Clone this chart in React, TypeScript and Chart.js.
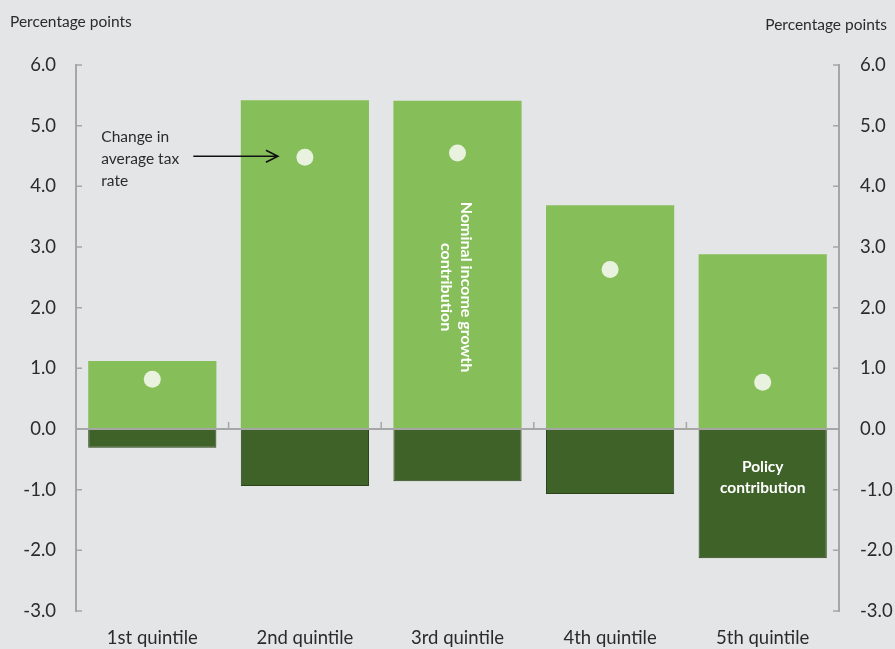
import React, { useEffect, useRef } from "react";
import { Chart, registerables } from "chart.js";

Chart.register(...registerables);

const categories = ["1st quintile", "2nd quintile", "3rd quintile", "4th quintile", "5th quintile"];
const nominalIncomeGrowth = [1.12, 5.42, 5.41, 3.69, 2.88];
const policyContribution = [-0.31, -0.94, -0.86, -1.07, -2.13];
const changeInAverageTaxRate = [0.82, 4.48, 4.55, 2.63, 0.77];
const yTicks = [-3, -2, -1, 0, 1, 2, 3, 4, 5, 6];
const axisTitle = "Percentage points";
const taxLabel = ["Change in", "average tax", "rate"];
const nominalLabel = ["Nominal income growth", "contribution"];
const policyLabel = ["Policy", "contribution"];

const FONT = "Lato, 'Open Sans', sans-serif";
const BG = "#e4e5e7";
const AXIS = "#a6a6a6";
const TEXT = "#2b2b2b";

const decorPlugin = {
  id: "decor",
  beforeDraw(chart: any) {
    const ctx = chart.ctx;
    ctx.save();
    ctx.fillStyle = BG;
    ctx.fillRect(0, 0, chart.width, chart.height);
    ctx.restore();
  },
  afterDatasetsDraw(chart: any) {
    const ctx = chart.ctx;
    const xs = chart.scales.x;
    const ys = chart.scales.y;
    const { left, right } = chart.chartArea;
    ctx.save();
    ctx.strokeStyle = AXIS;
    ctx.lineWidth = 2;
    const y0 = ys.getPixelForValue(0);
    ctx.beginPath();
    ctx.moveTo(left, y0);
    ctx.lineTo(right, y0);
    ctx.stroke();
    ctx.lineWidth = 1.5;
    for (let i = 0; i < categories.length - 1; i++) {
      const bx = (xs.getPixelForValue(i) + xs.getPixelForValue(i + 1)) / 2;
      ctx.beginPath();
      ctx.moveTo(bx, y0);
      ctx.lineTo(bx, y0 - 7);
      ctx.stroke();
    }
    for (const v of yTicks) {
      const py = ys.getPixelForValue(v);
      ctx.beginPath();
      ctx.moveTo(left, py);
      ctx.lineTo(left + 6, py);
      ctx.moveTo(right, py);
      ctx.lineTo(right - 6, py);
      ctx.stroke();
    }
    ctx.restore();
  },
  afterDraw(chart: any) {
    const ctx = chart.ctx;
    const xs = chart.scales.x;
    const ys = chart.scales.y;
    ctx.save();
    // axis titles
    ctx.fillStyle = TEXT;
    ctx.font = `15.5px ${FONT}`;
    ctx.textBaseline = "middle";
    ctx.textAlign = "left";
    ctx.fillText(axisTitle, 10, 22);
    ctx.textAlign = "right";
    ctx.fillText(axisTitle, 887, 25);

    // tax rate annotation
    const dotY = ys.getPixelForValue(changeInAverageTaxRate[1]);
    const tx = xs.getPixelForValue(0) - 51;
    ctx.textAlign = "left";
    ctx.font = `15.5px ${FONT}`;
    taxLabel.forEach((t, i) => ctx.fillText(t, tx, dotY - 20 + i * 22));
    const ax1 = xs.getPixelForValue(0) + 41;
    const ax2 = xs.getPixelForValue(1) - 27;
    const ay = dotY - 1;
    ctx.strokeStyle = "#111111";
    ctx.lineWidth = 1.6;
    ctx.beginPath();
    ctx.moveTo(ax1, ay);
    ctx.lineTo(ax2, ay);
    ctx.moveTo(ax2 - 12, ay - 6);
    ctx.lineTo(ax2, ay);
    ctx.lineTo(ax2 - 12, ay + 6);
    ctx.stroke();

    // rotated nominal label
    ctx.save();
    ctx.translate(xs.getPixelForValue(2), ys.getPixelForValue(2.34));
    ctx.rotate(Math.PI / 2);
    ctx.fillStyle = "#ffffff";
    ctx.font = `bold 16px ${FONT}`;
    ctx.textAlign = "center";
    ctx.fillText(nominalLabel[0], 0, -9);
    ctx.fillText(nominalLabel[1], 0, 11);
    ctx.restore();

    // policy label
    ctx.fillStyle = "#ffffff";
    ctx.font = `bold 15.5px ${FONT}`;
    ctx.textAlign = "center";
    const px = xs.getPixelForValue(4);
    const py = ys.getPixelForValue(-0.8);
    ctx.fillText(policyLabel[0], px, py - 10.5);
    ctx.fillText(policyLabel[1], px, py + 10.5);
    ctx.restore();
  },
};

export default function App() {
  const ref = useRef<HTMLCanvasElement | null>(null);
  useEffect(() => {
    document.body.style.margin = "0";
    document.body.style.background = BG;
    if (!ref.current) return;
    const yAxisCommon = {
      min: -3,
      max: 6,
      grid: { display: false, drawTicks: false },
      border: { display: true, color: AXIS, width: 2 },
      ticks: {
        stepSize: 1,
        color: TEXT,
        font: { size: 18.5, family: FONT },
        callback: (v: any) => Number(v).toFixed(1),
      },
    };
    const chart = new Chart(ref.current, {
      type: "bar",
      data: {
        labels: categories,
        datasets: [
          {
            type: "line",
            label: "Change in average tax rate",
            data: changeInAverageTaxRate,
            showLine: false,
            pointRadius: 8.5,
            pointBackgroundColor: "#e9f2df",
            pointBorderWidth: 0,
            stack: "tax",
            order: 0,
            yAxisID: "y",
          } as any,
          {
            type: "bar",
            label: "Nominal income growth contribution",
            data: nominalIncomeGrowth,
            backgroundColor: "#86bf5a",
            borderWidth: 0,
            stack: "q",
            order: 2,
            barPercentage: 0.84,
            categoryPercentage: 1,
            yAxisID: "y",
          },
          {
            type: "bar",
            label: "Policy contribution",
            data: policyContribution,
            backgroundColor: "#3f6229",
            borderColor: "#2a431b",
            borderWidth: 1,
            stack: "q",
            order: 2,
            barPercentage: 0.84,
            categoryPercentage: 1,
            yAxisID: "y",
          },
        ],
      },
      options: {
        animation: false,
        responsive: true,
        maintainAspectRatio: false,
        layout: { padding: { top: 65, left: 0, right: 0, bottom: 0 } },
        plugins: { legend: { display: false }, tooltip: { enabled: false } },
        scales: {
          x: {
            stacked: true,
            grid: { display: false, drawTicks: false },
            border: { display: false },
            ticks: { color: TEXT, font: { size: 18.5, family: FONT }, padding: 16 },
            afterFit: (s: any) => {
              s.height = 38;
            },
          },
          y: {
            ...yAxisCommon,
            stacked: true,
            position: "left",
            ticks: { ...yAxisCommon.ticks, padding: 20 },
            afterFit: (s: any) => {
              s.width = 76;
            },
          },
          y2: {
            ...yAxisCommon,
            position: "right",
            ticks: { ...yAxisCommon.ticks, padding: 21 },
            afterFit: (s: any) => {
              s.width = 56;
            },
          },
        } as any,
      },
      plugins: [decorPlugin],
    });
    return () => chart.destroy();
  }, []);
  return (
    <div style={{ position: "absolute", left: 0, top: 0, width: 895, height: 649, background: BG }}>
      <canvas ref={ref} />
    </div>
  );
}
